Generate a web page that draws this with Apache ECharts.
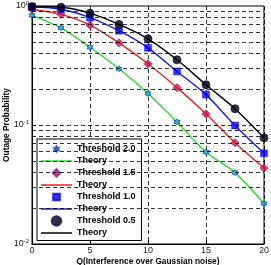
<!DOCTYPE html>
<html>
<head>
<meta charset="utf-8">
<script src="https://cdn.jsdelivr.net/npm/echarts@6/dist/echarts.min.js"></script>
<style>
html, body { margin: 0; padding: 0; background: #fff; }
#main { width: 271px; height: 265px; }
</style>
</head>
<body>
<div id="main"></div>
<script>
// Q values (x axis)
var qValues = [0, 2.5, 5, 7.5, 10, 12.5, 15, 17.5, 20];
// outage probability per threshold
var thr20 = [0.835, 0.655, 0.45, 0.297, 0.184, 0.106, 0.0592, 0.0398, 0.0219];
var thr15 = [0.94, 0.85, 0.69, 0.49, 0.327, 0.206, 0.124, 0.071, 0.0435];
var thr10 = [0.98, 0.94, 0.80, 0.62, 0.445, 0.282, 0.18, 0.099, 0.0578];
var thr05 = [0.99, 0.975, 0.87, 0.70, 0.53, 0.353, 0.218, 0.137, 0.078];
// dashed grid levels on the log axis
var gridLevels = [0.02, 0.03, 0.04, 0.05, 0.06, 0.07, 0.08, 0.09, 0.1,
                  0.2, 0.3, 0.4, 0.5, 0.6, 0.7, 0.8, 0.9];
var legendNames = ['Threshold 2.0', 'Theory', 'Threshold 1.5', 'Theory\u200b',
                   'Threshold 1.0', 'Theory\u200b\u200b', 'Threshold 0.5', 'Theory\u200b\u200b\u200b'];

function pairs(ys) {
    return qValues.map(function (x, i) { return [x, ys[i]]; });
}

var star = 'path://M0,-10 L2.9,-5 L8.66,-5 L5.8,0 L8.66,5 L2.9,5 L0,10 L-2.9,5 L-8.66,5 L-5.8,0 L-8.66,-5 L-2.9,-5 Z';

// legend icons (padded with empty moves so they keep a small size)
var iconStar = 'path://M-19,-19 M19,19 M0,-10 L2.9,-5 L8.66,-5 L5.8,0 L8.66,5 L2.9,5 L0,10 L-2.9,5 L-8.66,5 L-5.8,0 L-8.66,-5 L-2.9,-5 Z';
var iconDiamond = 'path://M-13,-13 M13,13 M0,-10 L10,0 L0,10 L-10,0 Z';
var iconRect = 'path://M-15,-15 M15,15 M-10,-10 L10,-10 L10,10 L-10,10 Z';
var iconCircle = 'path://M-10.5,-10.5 M10.5,10.5 M-10,0 A10,10 0 1,0 10,0 A10,10 0 1,0 -10,0 Z';
var iconLine = 'path://M0,0 L31,0 L31,1.5 L0,1.5 Z';
var legendIcons = [iconStar, iconLine, iconDiamond, iconLine, iconRect, iconLine, iconCircle, iconLine];

var dom = document.getElementById('main');
var myChart = echarts.init(dom, null, { renderer: 'canvas' });

var font = 'Liberation Sans';

var option = {
    animation: false,
    backgroundColor: '#fff',
    grid: {
        left: 32, right: 7, top: 6, bottom: 21,
        outerBoundsMode: 'none',
        containLabel: false,
        show: true, borderColor: '#000', borderWidth: 1, backgroundColor: 'transparent'
    },
    legend: {
        data: legendNames.map(function (n, i) { return { name: n, icon: legendIcons[i] }; }),
        orient: 'vertical',
        left: 37, top: 139,
        padding: [4, 6, 3, 4],
        itemWidth: 31, itemHeight: 10, itemGap: 1.5,
        symbolKeepAspect: true,
        backgroundColor: '#fff',
        borderColor: '#000', borderWidth: 1,
        borderRadius: 0,
        formatter: function (n) { return n.replace(/\u200b/g, ''); },
        textStyle: { fontFamily: font, fontWeight: 'bold', fontSize: 9, color: '#000' }
    },
    xAxis: {
        type: 'value', min: 0, max: 20, interval: 5,
        name: 'Q(Interference over Gaussian noise)',
        nameLocation: 'middle', nameGap: 14, nameMoveOverlap: false,
        nameTextStyle: { fontFamily: font, fontWeight: 'bold', fontSize: 8.3, color: '#000' },
        axisLine: { lineStyle: { color: '#000', width: 1 } },
        axisTick: { inside: true, length: 4, lineStyle: { color: '#000' } },
        axisLabel: { fontFamily: font, fontSize: 9, color: '#222', margin: 2 },
        splitLine: { show: true, lineStyle: { color: '#000', type: [4, 3], width: 0.8 } }
    },
    yAxis: {
        type: 'log', logBase: 10, min: 0.01, max: 1,
        name: 'Outage Probability',
        nameLocation: 'middle', nameGap: 21, nameMoveOverlap: false,
        nameTextStyle: { fontFamily: font, fontWeight: 'bold', fontSize: 8.3, color: '#000' },
        axisLine: { lineStyle: { color: '#000', width: 1 } },
        axisTick: { inside: true, length: 4, lineStyle: { color: '#000' } },
        axisLabel: {
            fontFamily: font, fontSize: 9, color: '#222', margin: 3,
            formatter: function (v) {
                return '10{s|' + Math.round(Math.log10(v)) + '}';
            },
            rich: { s: { fontFamily: font, fontSize: 6, verticalAlign: 'top', padding: [0, 0, 6, 0], color: '#222' } }
        },
        splitLine: { show: false }
    },
    series: [
        {
            name: 'grid', type: 'line', data: [], z: 1, silent: true,
            markLine: {
                silent: true, symbol: 'none', animation: false,
                label: { show: false },
                lineStyle: { color: '#000', type: [4, 3], width: 0.8 },
                data: gridLevels.map(function (v) { return { yAxis: v }; })
            }
        },
        { name: legendNames[1], type: 'line', smooth: 0.3, symbol: 'none', data: pairs(thr20), color: '#22e022', lineStyle: { width: 1.4 }, z: 3 },
        { name: legendNames[3], type: 'line', smooth: 0.3, symbol: 'none', data: pairs(thr15), color: '#ee2020', lineStyle: { width: 1.4 }, z: 3 },
        { name: legendNames[5], type: 'line', smooth: 0.3, symbol: 'none', data: pairs(thr10), color: '#1a1aee', lineStyle: { width: 1.4 }, z: 3 },
        { name: legendNames[7], type: 'line', smooth: 0.3, symbol: 'none', data: pairs(thr05), color: '#000', lineStyle: { width: 1.4 }, z: 3 },
        { name: legendNames[0], type: 'scatter', symbol: star, symbolSize: 6, data: pairs(thr20), z: 4,
          itemStyle: { color: '#20b0d8', borderColor: '#1040c0', borderWidth: 1 } },
        { name: legendNames[2], type: 'scatter', symbol: 'diamond', symbolSize: 8, data: pairs(thr15), z: 4,
          itemStyle: { color: '#e01040', borderColor: '#8020a0', borderWidth: 1 } },
        { name: legendNames[4], type: 'scatter', symbol: 'rect', symbolSize: 7, data: pairs(thr10), z: 4,
          itemStyle: { color: '#0000ff', borderColor: '#0000ff', borderWidth: 0.5 } },
        { name: legendNames[6], type: 'scatter', symbol: 'circle', symbolSize: 8, data: pairs(thr05), z: 4,
          itemStyle: { color: '#000', borderColor: '#101060', borderWidth: 1 } }
    ]
};

myChart.setOption(option);
window.addEventListener('resize', myChart.resize);
</script>
</body>
</html>
